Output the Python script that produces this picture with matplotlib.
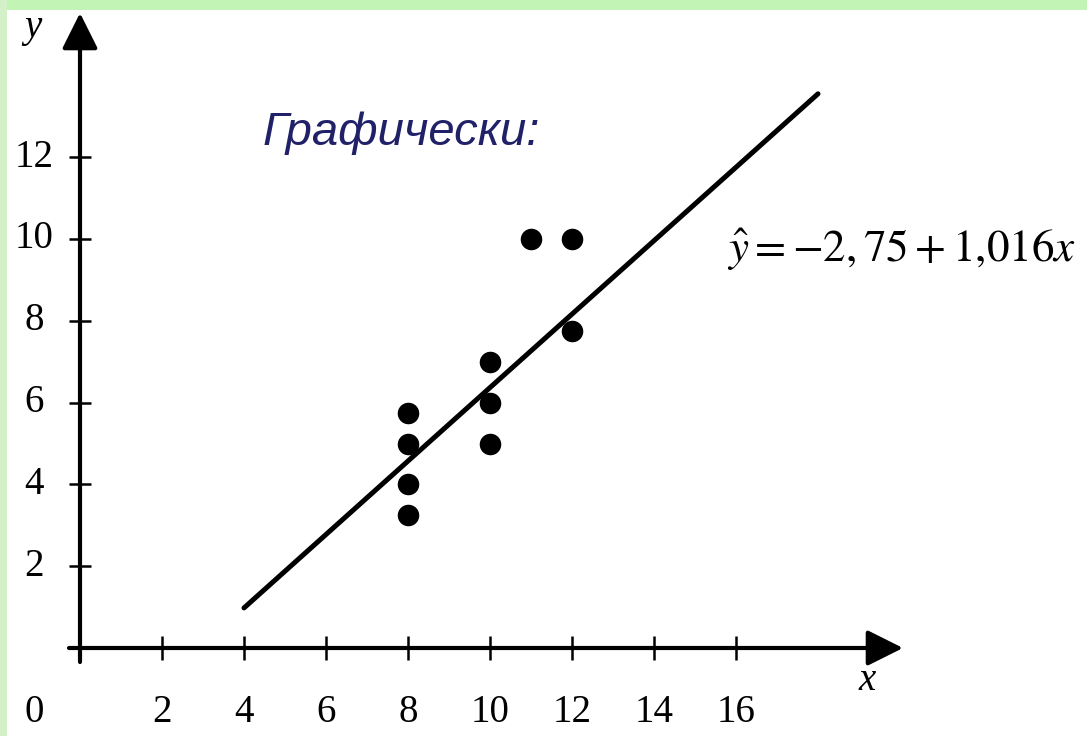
import matplotlib
matplotlib.use("Agg")
import matplotlib.pyplot as plt
from matplotlib.patches import Rectangle

# ---- data ----
points_x = [8, 8, 8, 8, 10, 10, 10, 11, 12, 12]
points_y = [5.75, 5.0, 4.0, 3.25, 7.0, 6.0, 5.0, 10.0, 10.0, 7.75]
line_x = [4.0, 18.0]
line_y = [0.98, 13.55]
x_ticks = [0, 2, 4, 6, 8, 10, 12, 14, 16]
x_tick_labels = ["0", "2", "4", "6", "8", "10", "12", "14", "16"]
y_ticks = [0, 2, 4, 6, 8, 10, 12]
y_tick_labels = ["", "2", "4", "6", "8", "10", "12"]
equation = r"$\hat{y}=-2,\!\,75+1{,}016x$"
title_text = "Графически:"

plt.rcParams["mathtext.fontset"] = "stix"

W, H = 1087, 736
fig = plt.figure(figsize=(W / 100, H / 100), dpi=100)
fig.patch.set_facecolor("white")

# green frame strips
fig.patches.append(Rectangle((0, 1 - 10 / H), 1, 10 / H, transform=fig.transFigure,
                             facecolor="#c2f5b5", edgecolor="none", zorder=0))
fig.patches.append(Rectangle((0, 0), 7 / W, 1, transform=fig.transFigure,
                             facecolor="#d3f0c9", edgecolor="none", zorder=0))

ax = fig.add_axes([0, 0, 1, 1])
ax.patch.set_alpha(0)
# pixel mapping: x_px = 80 + 41*x ; y_px(from top) = 648 - 40.9*y
px_x, sx = 80, 41.0
px_y, sy = 648, 40.9
ax.set_xlim((0 - px_x) / sx, (W - px_x) / sx)
ax.set_ylim((px_y - H) / sy, (px_y - 0) / sy)

for s in ax.spines.values():
    s.set_visible(False)

# axes lines with arrows
x_left, x_tip = (69 - px_x) / sx, (903 - px_x) / sx
y_bot, y_tip = (px_y - 662) / sy, (px_y - 13) / sy
arrow_kw = dict(arrowstyle="-|>,head_length=1.1,head_width=0.55", lw=3, color="black",
                shrinkA=0, shrinkB=0, mutation_scale=20)
ax.annotate("", xy=(x_tip, 0), xytext=(x_left, 0), arrowprops=arrow_kw)
ax.annotate("", xy=(0, y_tip), xytext=(0, y_bot), arrowprops=arrow_kw)

# crossing ticks
tick_half_x = 12 / sy
tick_half_y = 11 / sx
for t in x_ticks:
    ax.plot([t, t], [-tick_half_x, tick_half_x], color="black", lw=1.8, solid_capstyle="butt")
for t in y_ticks:
    ax.plot([-tick_half_y, tick_half_y], [t, t], color="black", lw=1.8, solid_capstyle="butt")
ax.set_xticks([])
ax.set_yticks([])

serif = ["Liberation Serif", "DejaVu Serif"]
lab_x = (34 - px_x) / sx
lab_y = (px_y - 712) / sy
for t, lab in zip(x_ticks, x_tick_labels):
    xpos = lab_x if t == 0 else t
    ax.text(xpos, lab_y, lab, family=serif, fontsize=28, ha="center", va="center")
for t, lab in zip(y_ticks, y_tick_labels):
    if lab:
        ax.text(lab_x, t, lab, family=serif, fontsize=28, ha="center", va="center")

ax.text((33 - px_x) / sx, (px_y - 28) / sy, "y", family=serif, style="italic",
        fontsize=28, ha="center", va="center")
ax.text((867 - px_x) / sx, (px_y - 680) / sy, "x", family=serif, style="italic",
        fontsize=28, ha="center", va="center")

# regression line and points
ax.plot(line_x, line_y, color="black", lw=3.6, solid_capstyle="round")
ax.plot(points_x, points_y, "o", color="black", markersize=14.5)

ax.text((727 - px_x) / sx, (px_y - 250) / sy, equation, fontsize=32.5,
        ha="left", va="center", color="black")

ax.text((263 - px_x) / sx, (px_y - 133) / sy, title_text,
        family=["Liberation Sans", "DejaVu Sans"], style="italic", fontsize=34,
        color="#212168", ha="left", va="center")

fig.savefig("out.png", dpi=100, facecolor=fig.get_facecolor())
